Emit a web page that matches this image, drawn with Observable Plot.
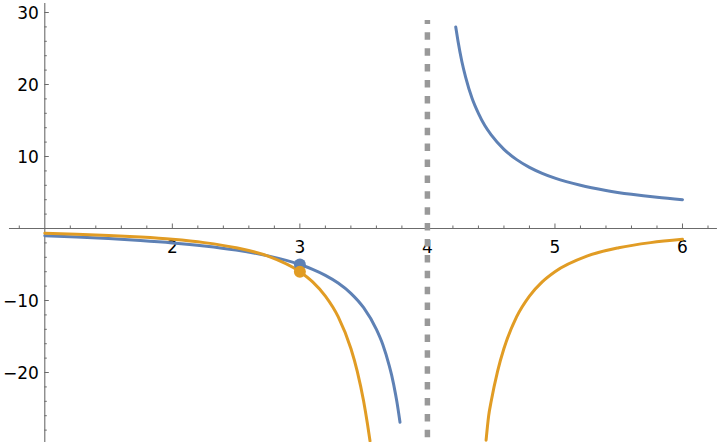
<!DOCTYPE html>
<html>
<head>
<meta charset="utf-8">
<script src="https://cdn.jsdelivr.net/npm/d3@7"></script>
<script src="https://cdn.jsdelivr.net/npm/@observablehq/plot@0.6"></script>
<style>
  html, body { margin: 0; padding: 0; background: #fff; }
  #chart svg { display: block; }
</style>
</head>
<body>
<div id="chart"></div>
<script>
// ---- data ----
const blueLeftX  = [1.0, 1.25, 1.5, 1.75, 2.0, 2.25, 2.5, 2.75, 3.0, 3.1, 3.2, 3.3, 3.4, 3.5, 3.6, 3.65, 3.7, 3.72, 3.75, 3.76, 3.785];
const blueLeftY  = [-1.0, -1.18, -1.4, -1.67, -2.0, -2.43, -3.0, -3.8, -5.0, -5.67, -6.5, -7.57, -9.0, -11.0, -14.0, -16.1, -19.0, -20.4, -23.0, -24.0, -26.9];
const blueRightX = [4.222, 4.24, 4.27, 4.3, 4.35, 4.4, 4.45, 4.5, 4.6, 4.7, 4.8, 4.9, 5.0, 5.2, 5.4, 5.6, 5.8, 6.0];
const blueRightY = [28.0, 26.0, 23.2, 21.0, 18.1, 16.0, 14.3, 13.0, 11.0, 9.57, 8.5, 7.67, 7.0, 6.0, 5.29, 4.75, 4.33, 4.0];
const orangeLeftX  = [1.0, 1.25, 1.5, 1.75, 2.0, 2.25, 2.5, 2.75, 3.0, 3.1, 3.2, 3.3, 3.4, 3.45, 3.5, 3.53, 3.55];
const orangeLeftY  = [-0.67, -0.79, -0.96, -1.19, -1.5, -1.96, -2.67, -3.84, -6.0, -7.41, -9.38, -12.24, -16.67, -19.83, -24.0, -27.16, -29.5];
const orangeRightX = [4.46, 4.48, 4.5, 4.55, 4.6, 4.7, 4.8, 4.9, 5.0, 5.25, 5.5, 5.75, 6.0];
const orangeRightY = [-29.4, -26.04, -24.0, -19.83, -16.67, -12.24, -9.38, -7.41, -6.0, -3.84, -2.67, -1.96, -1.5];
const bluePoint   = [{x: 3, y: -5}];
const orangePoint = [{x: 3, y: -6}];
const asymptoteX  = [4];

const xMajorTicks = [2, 3, 4, 5, 6];
const xMinorTicks = [0.8, 1.2, 1.4, 1.6, 1.8, 2.2, 2.4, 2.6, 2.8, 3.2, 3.4, 3.6, 3.8, 4.2, 4.4, 4.6, 4.8, 5.2, 5.4, 5.6, 5.8, 6.2];
const yMajorTicks = [-20, -10, 10, 20, 30];
const yMinorTicks = [-28, -26, -24, -22, -18, -16, -14, -12, -8, -6, -4, -2, 2, 4, 6, 8, 12, 14, 16, 18, 22, 24, 26, 28];

// ---- layout ----
const W = 720, H = 442;
const xDomain = [0.6527, 6.298];
const yDomain = [-29.72, 31.667];
const pxX = W / (xDomain[1] - xDomain[0]);
const pxY = H / (yDomain[1] - yDomain[0]);
const xAxisSpan = [0.723, 6.274];
const yAxisSpan = [-31, 31.25];
const yAxisAt = 1;
const majorLen = 4.5, minorLen = 2.5;

const BLUE = "#5E81B5", ORANGE = "#E19C24", AXIS = "#6b6b6b";

const pts = (xs, ys) => xs.map((x, i) => ({x, y: ys[i]}));
const fmt = d => d < 0 ? "\u2212" + Math.abs(d) : String(d);

const lineOpts = c => ({x: "x", y: "y", stroke: c, strokeWidth: 3, curve: "monotone-x"});

const chart = Plot.plot({
  width: W,
  height: H,
  margin: 0,
  x: {domain: xDomain, axis: null},
  y: {domain: yDomain, axis: null},
  style: {fontFamily: "DejaVu Sans", background: "#fff"},
  marks: [
    // axes
    Plot.ruleY([0], {x1: xAxisSpan[0], x2: xAxisSpan[1], stroke: AXIS, strokeWidth: 1.1}),
    Plot.ruleX([yAxisAt], {y1: yAxisSpan[0], y2: yAxisSpan[1], stroke: AXIS, strokeWidth: 1.1}),
    Plot.ruleX(xMajorTicks, {x: d => d, y1: 0, y2: majorLen / pxY, stroke: AXIS, strokeWidth: 1}),
    Plot.ruleX(xMinorTicks, {x: d => d, y1: 0, y2: minorLen / pxY, stroke: AXIS, strokeWidth: 1}),
    Plot.ruleY(yMajorTicks, {y: d => d, x1: yAxisAt, x2: yAxisAt + majorLen / pxX, stroke: AXIS, strokeWidth: 1}),
    Plot.ruleY(yMinorTicks, {y: d => d, x1: yAxisAt, x2: yAxisAt + minorLen / pxX, stroke: AXIS, strokeWidth: 1}),
    Plot.text(xMajorTicks, {x: d => d, y: 0, dy: 19, text: fmt, fontSize: 17, fill: "#000"}),
    Plot.text(yMajorTicks, {x: yAxisAt, y: d => d, dx: -6, dy: 1, text: fmt, textAnchor: "end", fontSize: 17, fill: "#000"}),
    // asymptote
    Plot.ruleX(asymptoteX, {x: d => d, y1: 28.89, y2: -31.5, stroke: "#999", strokeWidth: 5.5,
      strokeDasharray: "7.5,8.4", strokeDashoffset: 3.6}),
    // curves
    Plot.line(pts(blueLeftX, blueLeftY), lineOpts(BLUE)),
    Plot.line(pts(blueRightX, blueRightY), lineOpts(BLUE)),
    Plot.line(pts(orangeLeftX, orangeLeftY), lineOpts(ORANGE)),
    Plot.line(pts(orangeRightX, orangeRightY), lineOpts(ORANGE)),
    // points
    Plot.dot(bluePoint, {x: "x", y: "y", r: 6, fill: BLUE}),
    Plot.dot(orangePoint, {x: "x", y: "y", r: 6, fill: ORANGE})
  ]
});
document.getElementById("chart").appendChild(chart);
</script>
</body>
</html>
